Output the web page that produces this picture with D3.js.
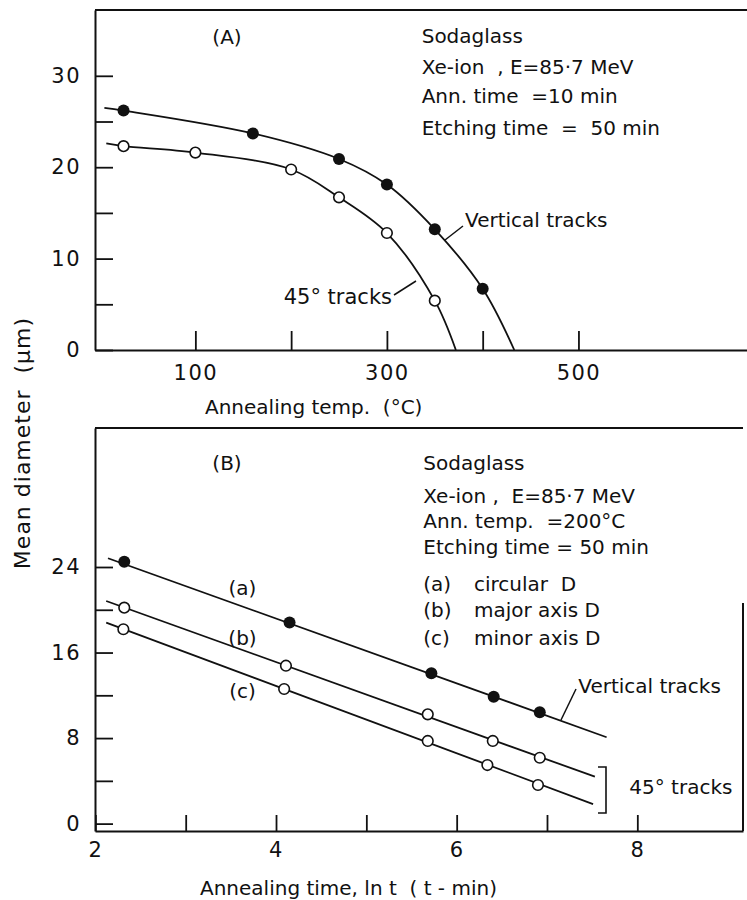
<!DOCTYPE html>
<html>
<head>
<meta charset="utf-8">
<script src="https://cdn.jsdelivr.net/npm/d3@7"></script>
<style>
  html, body { margin: 0; padding: 0; background: #fff; }
  svg text { font-family: "DejaVu Sans", sans-serif; fill: #111; white-space: pre; }
</style>
</head>
<body>
<svg id="chart" width="747" height="900"></svg>
<script>
// ---------- Panel A data (annealing temperature, °C) ----------
const vertTemp  = [25, 160, 250, 300, 350, 400];
const vertDiam  = [26.2, 23.7, 20.9, 18.1, 13.2, 6.7];
const vertCurveTemp = [5, 25, 160, 250, 300, 350, 400, 433];
const vertCurveDiam = [26.5, 26.2, 23.7, 20.9, 18.1, 13.2, 6.7, 0];

const diagTemp  = [25, 100, 200, 250, 300, 350];
const diagDiam  = [22.3, 21.6, 19.75, 16.7, 12.8, 5.4];
const diagCurveTemp = [7, 25, 100, 200, 250, 300, 350, 372];
const diagCurveDiam = [22.6, 22.3, 21.6, 19.75, 16.7, 12.8, 5.4, 0];

const aYTicks = [0, 5, 10, 15, 20, 25, 30];
const aYLabels = [0, 10, 20, 30];
const aXTicks = [100, 200, 300, 400, 500];
const aXLabels = [100, 300, 500];

// ---------- Panel B data (annealing time, ln t) ----------
const circLnT = [2.32, 4.15, 5.72, 6.41, 6.92];
const circD   = [24.5, 18.8, 14.06, 11.87, 10.41];
const circFitLnT = [2.14, 7.66];
const circFitD   = [24.82, 8.08];

const majLnT = [2.32, 4.11, 5.68, 6.40, 6.92];
const majD   = [20.2, 14.77, 10.22, 7.73, 6.16];
const majFitLnT = [2.12, 7.53];
const majFitD   = [20.82, 4.39];

const minLnT = [2.31, 4.09, 5.68, 6.34, 6.90];
const minD   = [18.18, 12.59, 7.73, 5.48, 3.61];
const minFitLnT = [2.12, 7.51];
const minFitD   = [18.79, 1.83];

const bYTicks = [0, 4, 8, 12, 16, 20, 24];
const bYLabels = [0, 8, 16, 24];
const bXTicks = [2, 3, 4, 5, 6, 7, 8];
const bXLabels = [2, 4, 6, 8];

// ---------- Text ----------
const aInfo = ["Sodaglass", "Xe-ion  , E=85·7 MeV", "Ann. time  =10 min", "Etching time  =  50 min"];
const bInfo = ["Sodaglass", "Xe-ion ,  E=85·7 MeV", "Ann. temp.  =200°C", "Etching time = 50 min"];
const bKeys = ["(a)", "(b)", "(c)"];
const bKeyText = ["circular  D", "major axis D", "minor axis D"];
const yTitle = "Mean diameter  (μm)";
const aXTitle = "Annealing temp.  (°C)";
const bXTitle = "Annealing time, ln t  ( t - min)";

// ---------- Setup ----------
const svg = d3.select("#chart");
const FS = 20;

// Panel A geometry
const A = {left: 95, right: 747, top: 10, bottom: 350};
const xA = d3.scaleLinear().domain([-4.8, 676]).range([A.left, A.right]);
const yA = d3.scaleLinear().domain([0, 37.2]).range([A.bottom, A.top]);

// Panel B geometry
const B = {left: 95, right: 743, top: 428, bottom: 831};
const xB = d3.scaleLinear().domain([1.996, 9.17]).range([B.left, B.right]);
const yB = d3.scaleLinear().domain([-0.69, 37.0]).range([B.bottom, B.top]);

const frameStroke = 2;

svg.append("line").attr("x1", A.left).attr("x2", A.right).attr("y1", A.top).attr("y2", A.top)
  .attr("stroke", "#111").attr("stroke-width", frameStroke);
svg.append("line").attr("x1", B.left).attr("x2", B.right).attr("y1", B.top).attr("y2", B.top)
  .attr("stroke", "#111").attr("stroke-width", frameStroke);
svg.append("line").attr("x1", B.right).attr("x2", B.right).attr("y1", 603).attr("y2", B.bottom)
  .attr("stroke", "#111").attr("stroke-width", frameStroke);

function styleAxis(g) {
  g.selectAll(".domain").attr("stroke", "#111").attr("stroke-width", frameStroke);
  g.selectAll(".tick line").attr("stroke", "#111").attr("stroke-width", 1.8);
  g.selectAll(".tick text").attr("font-size", 21).attr("font-family", "DejaVu Sans")
    .attr("fill", "#111").style("letter-spacing", "1.5px");
}

const gAy = svg.append("g").attr("transform", `translate(${A.left},0)`)
  .call(d3.axisLeft(yA).tickValues(aYTicks).tickSizeInner(-18).tickSizeOuter(0).tickPadding(14)
    .tickFormat(d => aYLabels.includes(d) ? d : ""));
styleAxis(gAy);
const gAx = svg.append("g").attr("transform", `translate(0,${A.bottom})`)
  .call(d3.axisBottom(xA).tickValues(aXTicks).tickSizeInner(-19).tickSizeOuter(0).tickPadding(15)
    .tickFormat(d => aXLabels.includes(d) ? d : ""));
styleAxis(gAx);

const gBy = svg.append("g").attr("transform", `translate(${B.left},0)`)
  .call(d3.axisLeft(yB).tickValues(bYTicks).tickSizeInner(-18).tickSizeOuter(0).tickPadding(14)
    .tickFormat(d => bYLabels.includes(d) ? d : ""));
styleAxis(gBy);
const gBx = svg.append("g").attr("transform", `translate(0,${B.bottom})`)
  .call(d3.axisBottom(xB).tickValues(bXTicks).tickSizeInner(-16).tickSizeOuter(0).tickPadding(11)
    .tickFormat(d => bXLabels.includes(d) ? d : ""));
styleAxis(gBx);

// ---------- Panel A curves and points ----------
const lineA = d3.line().x(d => xA(d[0])).y(d => yA(d[1])).curve(d3.curveCatmullRom.alpha(0.5));
svg.append("path").datum(d3.zip(vertCurveTemp, vertCurveDiam)).attr("d", lineA)
  .attr("fill", "none").attr("stroke", "#111").attr("stroke-width", 1.8);
svg.append("path").datum(d3.zip(diagCurveTemp, diagCurveDiam)).attr("d", lineA)
  .attr("fill", "none").attr("stroke", "#111").attr("stroke-width", 1.8);

svg.append("g").selectAll("circle").data(d3.zip(vertTemp, vertDiam)).join("circle")
  .attr("cx", d => xA(d[0])).attr("cy", d => yA(d[1])).attr("r", 6).attr("fill", "#111");
svg.append("g").selectAll("circle").data(d3.zip(diagTemp, diagDiam)).join("circle")
  .attr("cx", d => xA(d[0])).attr("cy", d => yA(d[1])).attr("r", 5.3)
  .attr("fill", "#fff").attr("stroke", "#111").attr("stroke-width", 1.6);

// ---------- Panel B lines and points ----------
const lineB = d3.line().x(d => xB(d[0])).y(d => yB(d[1]));
[[circFitLnT, circFitD], [majFitLnT, majFitD], [minFitLnT, minFitD]].forEach(([xs, ys]) => {
  svg.append("path").datum(d3.zip(xs, ys)).attr("d", lineB)
    .attr("fill", "none").attr("stroke", "#111").attr("stroke-width", 1.8);
});
svg.append("g").selectAll("circle").data(d3.zip(circLnT, circD)).join("circle")
  .attr("cx", d => xB(d[0])).attr("cy", d => yB(d[1])).attr("r", 6).attr("fill", "#111");
[[majLnT, majD], [minLnT, minD]].forEach(([xs, ys]) => {
  svg.append("g").selectAll("circle").data(d3.zip(xs, ys)).join("circle")
    .attr("cx", d => xB(d[0])).attr("cy", d => yB(d[1])).attr("r", 5.3)
    .attr("fill", "#fff").attr("stroke", "#111").attr("stroke-width", 1.6);
});

// ---------- Text annotations ----------
function txt(x, y, s, anchor, size) {
  return svg.append("text").attr("x", x).attr("y", y).attr("font-size", size || FS)
    .attr("text-anchor", anchor || "start").text(s);
}

// Panel A
txt(227, 44, "(A)", "middle");
const aBase = [42.7, 73.5, 103.3, 134.5];
aInfo.forEach((s, i) => txt(421.7, aBase[i], s));
txt(465, 227, "Vertical tracks");
txt(392, 304, "45° tracks", "end", 21);
svg.append("line").attr("x1", 445).attr("y1", 240).attr("x2", 463).attr("y2", 226)
  .attr("stroke", "#111").attr("stroke-width", 1.5);
svg.append("line").attr("x1", 394).attr("y1", 295).attr("x2", 416).attr("y2", 281)
  .attr("stroke", "#111").attr("stroke-width", 1.5);

// Axis titles
txt(205, 414, aXTitle);
txt(200, 895, bXTitle);
svg.append("text").attr("transform", "translate(30,443) rotate(-90)")
  .attr("text-anchor", "middle").attr("font-size", 22).style("letter-spacing", "1px").text(yTitle);

// Panel B
txt(227, 470, "(B)", "middle");
const bBase = [470, 503.3, 528.3, 554];
bInfo.forEach((s, i) => txt(423.3, bBase[i], s));
const keyBase = [590.7, 617.3, 645];
bKeys.forEach((s, i) => txt(423.3, keyBase[i], s));
bKeyText.forEach((s, i) => txt(474, keyBase[i], s));
const curveLabelBase = [595, 645, 698];
bKeys.forEach((s, i) => txt(242.5, curveLabelBase[i], s, "middle"));

txt(578.3, 693.3, "Vertical tracks");
svg.append("line").attr("x1", 561).attr("y1", 720).attr("x2", 576).attr("y2", 689)
  .attr("stroke", "#111").attr("stroke-width", 1.5);
svg.append("path").attr("d", "M598,767 H606 V813 H598")
  .attr("fill", "none").attr("stroke", "#111").attr("stroke-width", 1.6);
txt(629.3, 794, "45° tracks");
</script>
</body>
</html>
